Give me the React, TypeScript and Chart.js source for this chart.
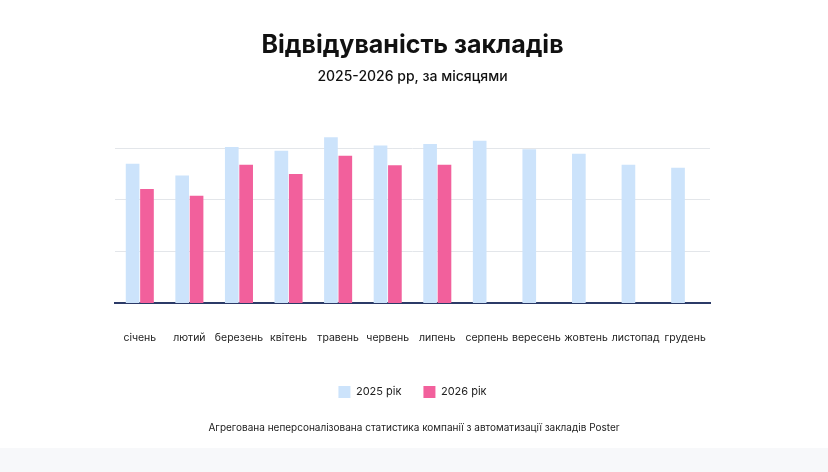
import React, { useEffect, useRef } from "react";
import { Chart, registerables } from "chart.js";
Chart.register(...registerables);

const months = ["січень","лютий","березень","квітень","травень","червень","липень","серпень","вересень","жовтень","листопад","грудень"];
const visits2025 = [2.70,2.47,3.02,2.95,3.21,3.05,3.08,3.14,2.98,2.89,2.68,2.62];
const visits2026 = [2.21,2.08,2.68,2.50,2.85,2.67,2.68,null,null,null,null,null];
const seriesLabels = ["2025 рік","2026 рік"];

export default function App() {
  const ref = useRef<HTMLCanvasElement>(null);
  useEffect(() => {
    document.body.style.margin = "0";
    const font = "'Inter', 'Noto Sans', sans-serif";
    const chart = new Chart(ref.current!, {
      type: "bar",
      data: {
        labels: months,
        datasets: [
          { label: seriesLabels[0], data: visits2025, backgroundColor: "#cce3fb", barPercentage: 0.95, categoryPercentage: 0.58 },
          { label: seriesLabels[1], data: visits2026 as any, backgroundColor: "#f2609c", barPercentage: 0.95, categoryPercentage: 0.58 },
        ],
      },
      options: {
        animation: false,
        responsive: false,
        layout: { padding: { left: 115, right: 118, bottom: 40, top: 0 } },
        plugins: {
          title: { display: true, text: "Відвідуваність закладів", color: "#111", font: { family: font, size: 25, weight: "bold" }, padding: { top: 30, bottom: 8 } },
          subtitle: { display: true, text: "2025-2026 рр, за місяцями", color: "#111", font: { family: font, size: 14, weight: 500 }, padding: { bottom: 40 } },
          legend: { position: "bottom", labels: { boxWidth: 12, boxHeight: 12, padding: 22, color: "#222", font: { family: font, size: 11 } } },
          tooltip: { enabled: false },
        },
        scales: {
          x: {
            grid: { display: false },
            border: { color: "#2b3a67", width: 2 },
            ticks: { color: "#222", font: { family: font, size: 10.5 }, padding: 20, maxRotation: 0, autoSkip: false },
          },
          y: {
            min: 0, max: 3.45,
            afterBuildTicks: (s: any) => { s.ticks = [0,1,2,3].map(v => ({ value: v })); },
            ticks: { display: false },
            grid: { color: "#e3e6ea", drawTicks: false },
            border: { display: false },
          },
        },
      },
      plugins: [{
        id: "legendGap",
        beforeInit(c: any) {
          const orig = c.legend.fit;
          c.legend.fit = function () { orig.bind(c.legend)(); };
        },
      }],
    });
    // widen legend item spacing
    const lg: any = chart.legend;
    if (lg && lg.legendHitBoxes && lg.legendHitBoxes.length === 2) {}
    return () => chart.destroy();
  }, []);
  return (
    <div style={{ position: "relative", width: 828, height: 472, background: "#f7f8fa" }}>
      <canvas ref={ref} width={828} height={448} style={{ display: "block", background: "#fff" }} />
      <div style={{ position: "absolute", top: 421, left: 0, width: 828, textAlign: "center", fontFamily: "'Inter', 'Noto Sans', sans-serif", fontSize: 10, color: "#222" }}>
        Агрегована неперсоналізована статистика компанії з автоматизації закладів Poster
      </div>
    </div>
  );
}
